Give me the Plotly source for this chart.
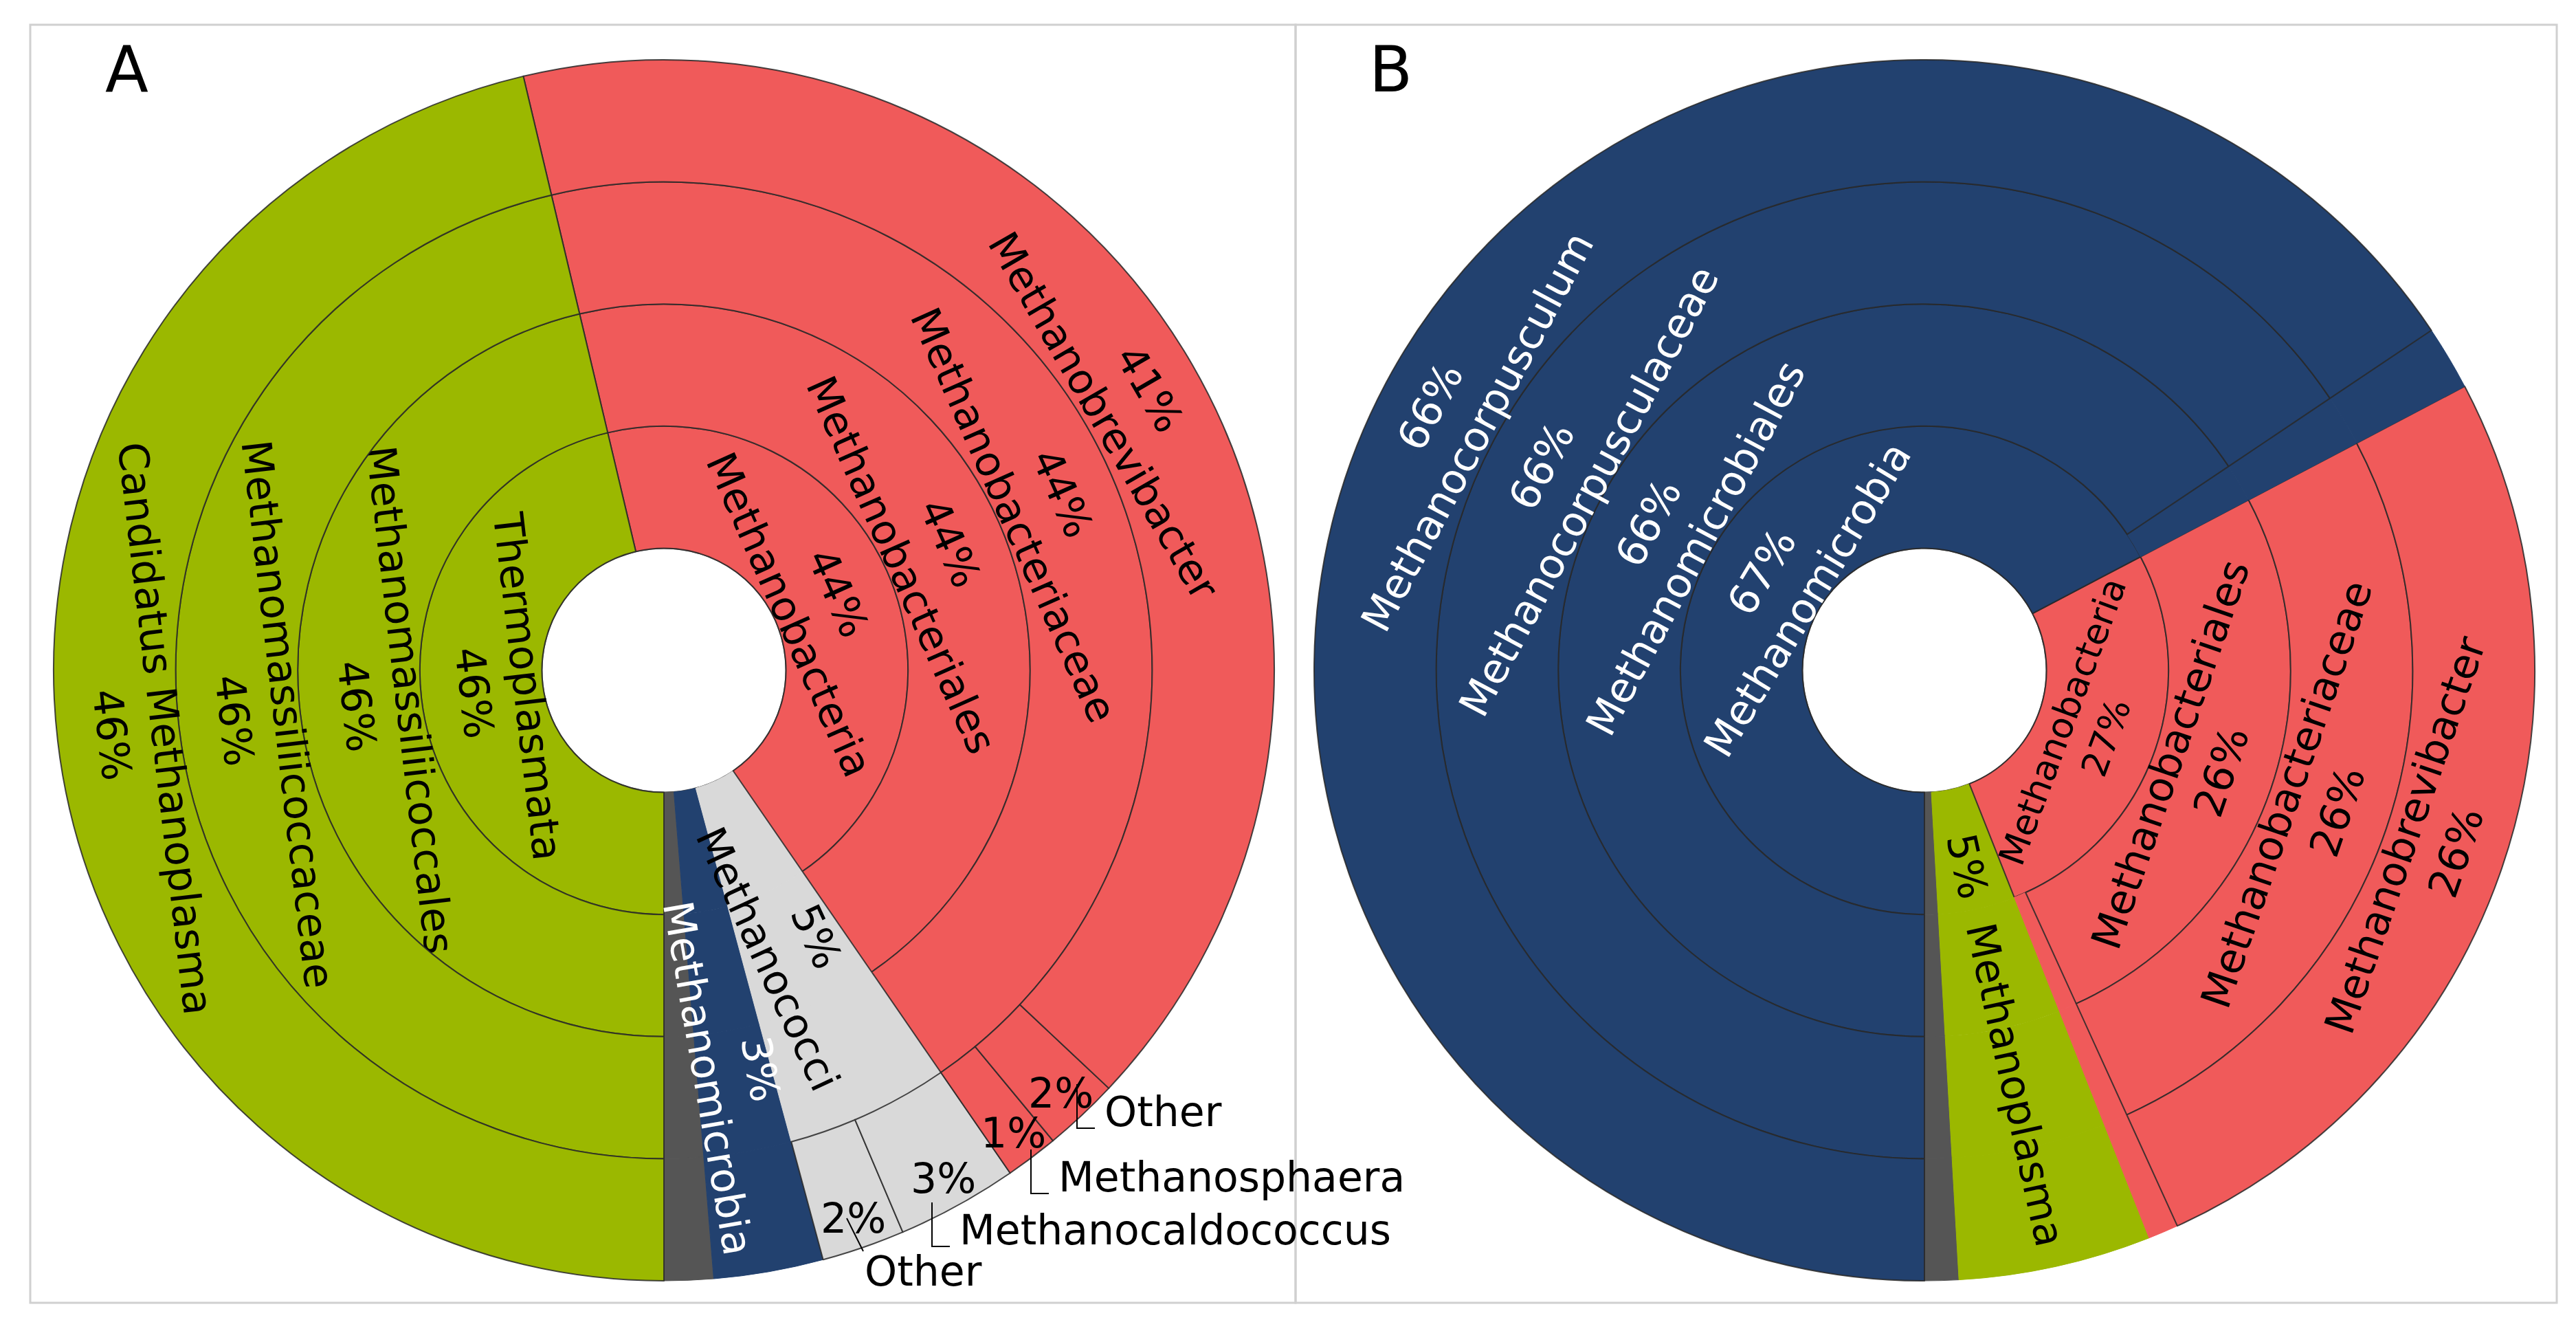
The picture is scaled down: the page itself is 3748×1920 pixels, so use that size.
import math
import plotly.graph_objects as go

# Sample A: class / order / family / genus, "-" = no name at that rank (percent of reads)
a_paths = [
    "Thermoplasmata",
    "Thermoplasmata/Methanomassiliicoccales",
    "Thermoplasmata/Methanomassiliicoccales/Methanomassiliicoccaceae",
    "Thermoplasmata/Methanomassiliicoccales/Methanomassiliicoccaceae/Candidatus Methanoplasma",
    "Methanobacteria",
    "Methanobacteria/Methanobacteriales",
    "Methanobacteria/Methanobacteriales/Methanobacteriaceae",
    "Methanobacteria/Methanobacteriales/Methanobacteriaceae/Methanobrevibacter",
    "Methanobacteria/Methanobacteriales/Methanobacteriaceae/Other",
    "Methanobacteria/Methanobacteriales/Methanobacteriaceae/Methanosphaera",
    "Methanococci",
    "Methanococci/-",
    "Methanococci/-/-",
    "Methanococci/-/-/Methanocaldococcus",
    "Methanococci/-/-/Other",
    "Methanomicrobia",
    "Methanomicrobia/-",
    "Methanomicrobia/-/-",
    "Methanomicrobia/-/-/-",
    "Unclassified",
    "Unclassified/-",
    "Unclassified/-/-",
    "Unclassified/-/-/-",
]
a_values = [46.3, 46.3, 46.3, 46.3,
            44.1, 44.1, 44.1, 40.7, 2.0, 1.4,
            5.4, 5.4, 5.4, 3.2, 2.2,
            2.9, 2.9, 2.9, 2.9,
            1.3, 1.3, 1.3, 1.3]

# Sample B
b_paths = [
    "Methanomicrobia",
    "Methanomicrobia/Methanomicrobiales",
    "Methanomicrobia/Methanomicrobiales/Methanocorpusculaceae",
    "Methanomicrobia/Methanomicrobiales/Methanocorpusculaceae/Methanocorpusculum",
    "Methanomicrobia/-",
    "Methanomicrobia/-/-",
    "Methanomicrobia/-/-/-",
    "Methanobacteria",
    "Methanobacteria/Methanobacteriales",
    "Methanobacteria/Methanobacteriales/Methanobacteriaceae",
    "Methanobacteria/Methanobacteriales/Methanobacteriaceae/Methanobrevibacter",
    "Methanobacteria/-",
    "Methanobacteria/-/-",
    "Methanobacteria/-/-/-",
    "Methanoplasma",
    "Methanoplasma/-",
    "Methanoplasma/-/-",
    "Methanoplasma/-/-/-",
    "Unclassified",
    "Unclassified/-",
    "Unclassified/-/-",
    "Unclassified/-/-/-",
]
b_values = [67.3, 65.6, 65.6, 65.6, 1.7, 1.7, 1.7,
            26.7, 25.9, 25.9, 25.9, 0.8, 0.8, 0.8,
            5.1, 5.1, 5.1, 5.1,
            0.9, 0.9, 0.9, 0.9]

# labels placed by hand: (template or None = name + percent, radius in ring widths, orientation, font size)
a_manual = {
    "Methanococci": ("{v}<br>{n}", 2.5, "radial", 60),
    "Methanomicrobia": ("{v}<br>{n}", 3.35, "radial", 60),
}
b_manual = {
    "Methanoplasma": ("{v}  {n}", 3.1, "radial", 60),
    "Methanobacteria": (None, 1.4, "tangential", 52),
}

# small genus slices: percentage at the rim, name outside (label left x, centre y in px)
a_outside = {
    "Methanobacteria/Methanobacteriales/Methanobacteriaceae/Other": ("Other", 1597, 1609),
    "Methanobacteria/Methanobacteriales/Methanobacteriaceae/Methanosphaera": ("Methanosphaera", 1530, 1704),
    "Methanococci/-/-/Methanocaldococcus": ("Methanocaldococcus", 1386, 1781),
    "Methanococci/-/-/Other": ("Other", 1248, 1841),
}

colors = {
    "Thermoplasmata": "#9bb800",
    "Methanoplasma": "#9bb800",
    "Methanobacteria": "#f05a5a",
    "Methanococci": "#d9d9d9",
    "Methanomicrobia": "#22416f",
    "Unclassified": "#555555",
}
FONT = "DejaVu Sans"
FS = 60
W, H = 3748, 1920
R = 888
CY = 967
CENTERS = {"A": 958, "B": 2792}
EDGE = "rgba(40,40,40,0.85)"


def pct(v):
    return f"{int(v + 0.5)}%"


def angles(paths, values):
    # start fraction of each slice, going clockwise from 6 o'clock
    total = sum(v for p, v in zip(paths, values) if "/" not in p)
    start, nxt = {}, {"": 0.0}
    for p, v in zip(paths, values):
        par = p.rsplit("/", 1)[0] if "/" in p else ""
        start[p] = nxt[par]
        nxt[par] += v / total
        nxt[p] = start[p]
    return {p: (start[p], v / total) for p, v in zip(paths, values)}


def screen(cx, phi, r):
    return cx - r * math.sin(phi), CY + r * math.cos(phi)


def tangent(phi):
    # text direction along the arc, kept left-to-right; True if the text top faces outward
    ux, uy = -math.sin(phi), math.cos(phi)
    tx, ty = uy, -ux
    if tx < 0 or (tx == 0 and ty < 0):
        tx, ty = -tx, -ty
    return math.degrees(math.atan2(ty, tx)), ty * ux - tx * uy > 0


def two_line(name, v, phi):
    _, up_out = tangent(phi)
    return f"{pct(v)}<br>{name}" if up_out else f"{name}<br>{pct(v)}"


def note(text, x, y, color="black", angle=0, xanchor="center", size=FS):
    return dict(text=text, x=x / W, y=1 - y / H, xref="paper", yref="paper", showarrow=False,
                xanchor=xanchor, yanchor="middle", textangle=angle,
                font=dict(family=FONT, size=size, color=color))


def build(paths, values, manual, outside, cx):
    ang = angles(paths, values)
    kids = {"root": []}
    for p in paths:
        par = p.rsplit("/", 1)[0] if "/" in p else "root"
        kids.setdefault(par, []).append(p)
    val = dict(zip(paths, values))
    mid = {p: 2 * math.pi * (s + f / 2) for p, (s, f) in ang.items()}

    ids, labels, parents, vals, fills, lcols, widths, texts, tcolors = [], [], [], [], [], [], [], [], []
    ids.append("root"); labels.append(""); parents.append(""); vals.append(sum(val[p] for p in kids["root"]))
    fills.append("white"); lcols.append(EDGE); widths.append(2); texts.append(""); tcolors.append("black")

    def emit(par):
        # plotly lays siblings counter-clockwise, the chart runs clockwise
        for p in reversed(kids.get(par, [])):
            name = p.split("/")[-1]
            top = p.split("/")[0]
            ids.append(p); parents.append(par); vals.append(val[p])
            labels.append("" if name == "-" else name)
            fills.append(colors[top])
            ch = kids.get(p, [])
            hidden = name == "-" or (len(ch) == 1 and ch[0].endswith("/-"))
            lcols.append(colors[top] if hidden else EDGE)
            widths.append(1 if hidden else 2)
            if name == "-" or top == "Unclassified" or p in manual or p in outside:
                texts.append("")
            else:
                texts.append(two_line(name, val[p], mid[p]))
            tcolors.append("white" if top == "Methanomicrobia" else "black")
            emit(p)

    emit("root")

    trace = go.Sunburst(
        ids=ids, labels=labels, parents=parents, values=vals,
        branchvalues="total", sort=False, rotation=270,
        text=texts, texttemplate="%{text}",
        insidetextorientation="auto",
        textfont=dict(family=FONT, size=FS, color=tcolors),
        marker=dict(colors=fills, line=dict(color=lcols, width=widths)),
        leaf=dict(opacity=1),
        hoverinfo="label+value",
        domain=dict(x=[(cx - R) / W, (cx + R) / W], y=[1 - (CY + R) / H, 1 - (CY - R) / H]),
    )

    notes, shapes = [], []
    ring = R / 5
    for p, (tpl, rr, orient, size) in manual.items():
        phi = mid[p]
        x, y = screen(cx, phi, rr * ring)
        top = p.split("/")[0]
        name = p.split("/")[-1]
        if orient == "radial":
            txt = tpl.format(v=pct(val[p]), n=name)
            angle = math.degrees(math.atan2(math.cos(phi), -math.sin(phi)))
        else:
            txt = two_line(name, val[p], phi)
            angle = tangent(phi)[0]
        notes.append(note(txt, x, y, "white" if top == "Methanomicrobia" else "black", angle, size=size))
    for p, (name, lx, ly) in outside.items():
        x, y = screen(cx, mid[p], 0.95 * R)
        notes.append(note(pct(val[p]), x, y))
        notes.append(note(name, lx, ly, xanchor="left"))
        if name == "Other" and p.startswith("Methanococci"):
            pts = [(lx - 24, ly - 77), (lx, ly - 29)]
        else:
            pts = [(lx - 38, ly - 40), (lx - 38, ly + 24), (lx - 12, ly + 24)]
        path = "M " + " L ".join(f"{px / W} {1 - py / H}" for px, py in pts)
        shapes.append(dict(type="path", path=path, xref="paper", yref="paper", line=dict(color="black", width=2)))
    return trace, notes, shapes


fig = go.Figure()
ta, na, sa = build(a_paths, a_values, a_manual, a_outside, CENTERS["A"])
tb, nb, sb = build(b_paths, b_values, b_manual, {}, CENTERS["B"])
fig.add_trace(ta)
fig.add_trace(tb)

# panel frames
for x0, x1 in [(36, 1877), (1877, 3712)]:
    fig.add_shape(type="rect", xref="paper", yref="paper", x0=x0 / W, x1=x1 / W, y0=1 - 1887 / H, y1=1 - 28 / H,
                  line=dict(color="#d0d0d0", width=3), layer="below")
for s in sa + sb:
    fig.add_shape(**s)
for n in na + nb:
    fig.add_annotation(**n)

for letter, x in [("A", 176), ("B", 2015)]:
    fig.add_annotation(text=letter, x=x / W, y=1 - 93 / H, xref="paper", yref="paper", showarrow=False,
                       xanchor="center", yanchor="middle", font=dict(family=FONT, size=92, color="black"))

fig.update_layout(
    width=W, height=H,
    margin=dict(l=0, r=0, t=0, b=0),
    paper_bgcolor="white",
    showlegend=False,
    uniformtext=dict(mode="show", minsize=FS),
)
fig.write_html("out.html")
